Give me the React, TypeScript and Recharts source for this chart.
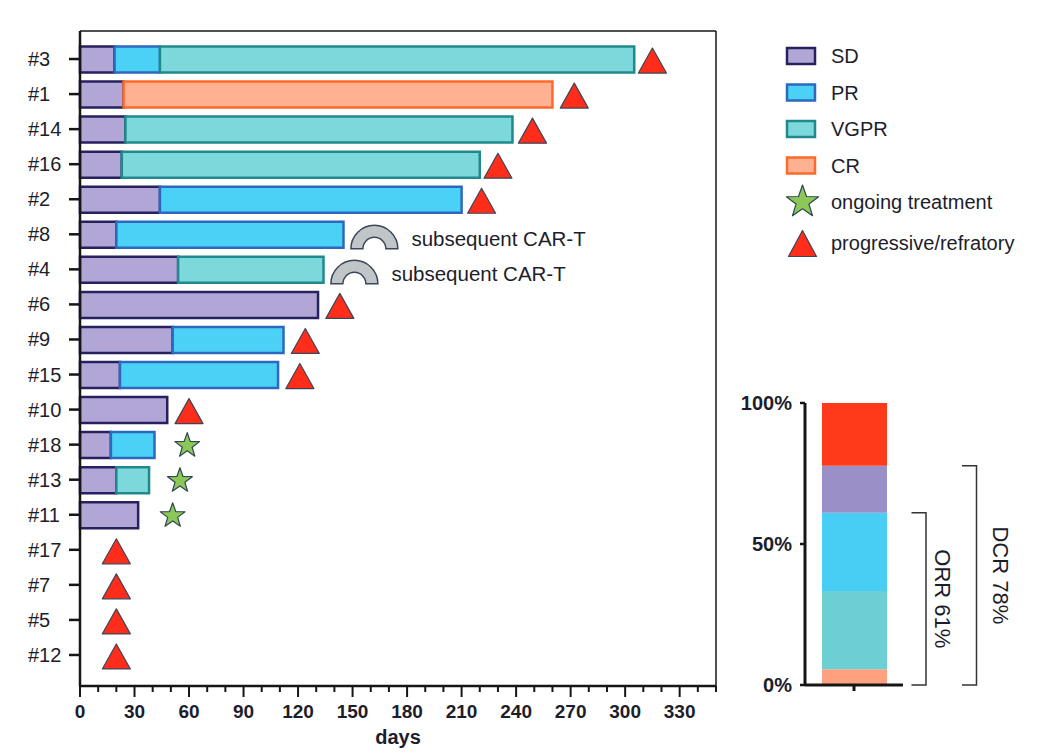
import React from "react";
import { BarChart, Bar, XAxis, YAxis, ReferenceDot, ReferenceLine, Legend } from "recharts";

// ── Swimmer plot data (days) ──────────────────────────────────
const patients = ["#3", "#1", "#14", "#16", "#2", "#8", "#4", "#6", "#9", "#15", "#10", "#18", "#13", "#11", "#17", "#7", "#5", "#12"];
const sdDays = [19, 24, 25, 23, 44, 20, 54, 131, 51, 22, 48, 17, 20, 32, 0, 0, 0, 0];
const prDays = [25, 0, 0, 0, 166, 125, 0, 0, 61, 87, 0, 24, 0, 0, 0, 0, 0, 0];
const vgprDays = [261, 0, 213, 197, 0, 0, 80, 0, 0, 0, 0, 0, 18, 0, 0, 0, 0, 0];
const crDays = [0, 236, 0, 0, 0, 0, 0, 0, 0, 0, 0, 0, 0, 0, 0, 0, 0, 0];
// end-of-treatment event per patient
const eventKind = ["pd", "pd", "pd", "pd", "pd", "cart", "cart", "pd", "pd", "pd", "pd", "ongoing", "ongoing", "ongoing", "pd", "pd", "pd", "pd"];
const eventDay = [315, 272, 249, 230, 221, 162, 151, 143, 124, 121, 60, 59, 55, 51, 20, 20, 20, 20];

const dayTicks = [0, 10, 20, 30, 40, 50, 60, 70, 80, 90, 100, 110, 120, 130, 140, 150, 160, 170, 180, 190, 200, 210, 220, 230, 240, 250, 260, 270, 280, 290, 300, 310, 320, 330, 340, 350];
const dayLabels = [0, 30, 60, 90, 120, 150, 180, 210, 240, 270, 300, 330];

// ── Best-response summary ─────────────────────────────────────
const responseNames = ["CR", "VGPR", "PR", "SD", "PD"];
const responseCounts = [1, 5, 5, 3, 4];
const rateTicks = [0, 0.5, 1];

const legendItems = ["SD", "PR", "VGPR", "CR", "ongoing treatment", "progressive/refratory"];

const FONT = '"Liberation Sans", Arial, Helvetica, sans-serif';
const INK = "#1d1d2b";
const AXIS = "#161616";

const phaseStyle: Record<string, { fill: string; stroke: string }> = {
  SD: { fill: "#b1a6d5", stroke: "#27215f" },
  PR: { fill: "#4bd0f6", stroke: "#2d68bf" },
  VGPR: { fill: "#7dd8dc", stroke: "#20898d" },
  CR: { fill: "#ffb191", stroke: "#ff6a2b" },
};
const summaryColors: Record<string, string> = {
  CR: "#ffa07f", VGPR: "#6ccfd3", PR: "#48cdf4", SD: "#9b8fc7", PD: "#ff3a1a",
};

const rows = patients.map((id, i) => ({
  id, SD: sdDays[i], PR: prDays[i], VGPR: vgprDays[i], CR: crDays[i],
}));

const summary = [
  Object.fromEntries([["name", "all"], ...responseNames.map((n, i) => [n, responseCounts[i]])]),
];
const total = responseCounts.reduce((s, v) => s + v, 0);
const orrRate = (responseCounts[0] + responseCounts[1] + responseCounts[2]) / total;
const dcrRate = orrRate + responseCounts[3] / total;

// ── Marker shapes ──────────────────────────────────────────────
function starPoints(cx: number, cy: number, R: number, r: number) {
  const pts: string[] = [];
  for (let k = 0; k < 10; k++) {
    const a = -Math.PI / 2 + (k * Math.PI) / 5;
    const rad = k % 2 === 0 ? R : r;
    pts.push(`${cx + rad * Math.cos(a)},${cy + rad * Math.sin(a)}`);
  }
  return pts.join(" ");
}

function Triangle({ cx, cy, half = 14, up = 11, down = 14 }: any) {
  return (
    <polygon
      points={`${cx},${cy - up} ${cx + half},${cy + down} ${cx - half},${cy + down}`}
      fill="#ff2d1a" stroke="#3c4658" strokeWidth={1.2} strokeLinejoin="round"
    />
  );
}

function Star({ cx, cy, R = 13, r = 5.2 }: any) {
  return <polygon points={starPoints(cx, cy, R, r)} fill="#8bc857" stroke="#2f4658" strokeWidth={1.2} strokeLinejoin="round" />;
}

function Arch({ cx, cy }: any) {
  const R = 23.5, r = 11.5, by = cy + 14.5;
  const d = `M${cx - R},${by} A${R},${R} 0 0 1 ${cx + R},${by} L${cx + r},${by} A${r},${r} 0 0 0 ${cx - r},${by} Z`;
  return (
    <g>
      <path d={d} fill="#c0c5c7" stroke="#3c4658" strokeWidth={1.5} />
      <text x={cx + 37} y={cy + 11.5} fontSize={20.5} fill={INK} fontFamily={FONT}>subsequent CAR-T</text>
    </g>
  );
}

function EventMarker(props: any) {
  const { cx, cy, kind } = props;
  if (kind === "pd") return <Triangle cx={cx} cy={cy} />;
  if (kind === "ongoing") return <Star cx={cx} cy={cy + 1} />;
  return <Arch cx={cx} cy={cy} />;
}

// ── Axis ticks ─────────────────────────────────────────────────
function PatientTick({ x, y, payload }: any) {
  return (
    <g>
      <line x1={x - 11} x2={x} y1={y} y2={y} stroke={AXIS} strokeWidth={2.5} />
      <text x={x - 52} y={y} dy="0.35em" fontSize={20} fill={INK} fontFamily={FONT}>{payload.value}</text>
    </g>
  );
}

function DayTick({ x, y, payload }: any) {
  const major = dayLabels.includes(payload.value);
  return (
    <g>
      <line x1={x} x2={x} y1={y} y2={y + (major ? 11 : 6)} stroke={AXIS} strokeWidth={2} />
      {major && (
        <text x={x} y={y + 32} textAnchor="middle" fontSize={19} fontWeight={700} fill={INK} fontFamily={FONT}>
          {payload.value}
        </text>
      )}
    </g>
  );
}

// ── Legend ─────────────────────────────────────────────────────
function LegendBox() {
  return (
    <svg width={260} height={240}>
      {legendItems.map((name, i) => {
        const cy = 26 + i * 36.5 + (i === 5 ? 4 : 0);
        const st = phaseStyle[name];
        return (
          <g key={name}>
            {st && <rect x={7} y={cy - 8} width={28} height={16} fill={st.fill} stroke={st.stroke} strokeWidth={2.5} />}
            {name === "ongoing treatment" && <Star cx={22.5} cy={cy} R={17} r={6.8} />}
            {name === "progressive/refratory" && <Triangle cx={22.5} cy={cy} half={14} up={12} down={14} />}
            <text x={51} y={cy} dy="0.35em" fontSize={20} fill={INK} fontFamily={FONT}>{name}</text>
          </g>
        );
      })}
    </svg>
  );
}

// Bracket drawn to the right of the summary bar; the line's y-extent comes from the y scale
const bracket = (text: string, lineDx: number, tickLen: number, textDx: number) => (p: any) => {
  const x = p.x1 + lineDx;
  const yTop = Math.min(p.y1, p.y2);
  const yBot = Math.max(p.y1, p.y2);
  const ty = (yTop + yBot) / 2;
  const tx = x + textDx;
  return (
    <g>
      <path d={`M${x - tickLen},${yTop} H${x} V${yBot} H${x - tickLen}`} fill="none" stroke="#333" strokeWidth={1.5} />
      <text x={tx} y={ty} transform={`rotate(90 ${tx} ${ty})`} textAnchor="middle" dy="0.35em"
        fontSize={22} fill={INK} fontFamily={FONT}>{text}</text>
    </g>
  );
};

export default function App() {
  return (
    <div style={{ position: "absolute", left: 0, top: 0, width: 1044, height: 756, background: "#fff", fontFamily: FONT }}>
      {/* ── Swimmer plot ───────────────────────────────────── */}
      <div style={{ position: "absolute", left: 0, top: 0 }}>
        <BarChart layout="vertical" width={1044} height={756} data={rows}
          margin={{ top: 30, right: 327, bottom: 0, left: 0 }}>
          <XAxis type="number" domain={[0, 350]} ticks={dayTicks} interval={0} height={70}
            tickSize={0} tickMargin={0} tickLine={false} tick={DayTick}
            axisLine={{ stroke: AXIS, strokeWidth: 2.5 }}
            label={{ value: "days", position: "insideBottom", offset: 12, fontSize: 20, fontWeight: 700, fill: INK }} />
          <XAxis xAxisId="frame" orientation="top" type="number" domain={[0, 350]} height={1}
            tick={false} tickLine={false} axisLine={{ stroke: AXIS, strokeWidth: 1.5 }} />
          <YAxis type="category" dataKey="id" width={80} padding={{ top: 10.5, bottom: 13.5 }}
            tickSize={0} tickMargin={0} tickLine={false} tick={PatientTick} interval={0}
            axisLine={{ stroke: AXIS, strokeWidth: 2.5 }} />
          <YAxis yAxisId="frame" orientation="right" type="category" dataKey="id" width={1}
            tick={false} tickLine={false} axisLine={{ stroke: AXIS, strokeWidth: 1.5 }} />
          {["SD", "PR", "VGPR", "CR"].map((k) => (
            <Bar key={k} dataKey={k} stackId="t" barSize={26} fill={phaseStyle[k].fill}
              stroke={phaseStyle[k].stroke} strokeWidth={2.5} isAnimationActive={false} />
          ))}
          {patients.map((id, i) => (
            <ReferenceDot key={id} x={eventDay[i]} y={id} r={10} ifOverflow="visible"
              shape={(p: any) => <EventMarker {...p} kind={eventKind[i]} />} />
          ))}
          <Legend layout="vertical" align="center" verticalAlign="middle"
            wrapperStyle={{ left: 780, top: 30, width: 260, height: 240 }}
            content={() => <LegendBox />} />
        </BarChart>
      </div>

      {/* ── Best-response stacked bar ─────────────────────── */}
      <div style={{ position: "absolute", left: 0, top: 0 }}>
        <BarChart width={1044} height={756} data={summary} stackOffset="expand"
          margin={{ top: 403, right: 141, bottom: 0, left: 0 }}>
          <XAxis dataKey="name" height={71} tickSize={6} tickFormatter={() => ""}
            tickLine={{ stroke: AXIS, strokeWidth: 3 }} axisLine={{ stroke: AXIS, strokeWidth: 3 }} />
          <YAxis width={805} domain={[0, 1]} ticks={rateTicks} interval={0}
            tickFormatter={(v: number) => `${Math.round(v * 100)}%`}
            tickSize={5} tickMargin={8}
            tick={{ fontSize: 20, fontWeight: 700, fill: INK, fontFamily: FONT }}
            tickLine={{ stroke: AXIS, strokeWidth: 2.5 }} axisLine={{ stroke: AXIS, strokeWidth: 3 }} />
          {responseNames.map((n) => (
            <Bar key={n} dataKey={n} stackId="s" barSize={65} fill={summaryColors[n]} isAnimationActive={false} />
          ))}
          <ReferenceLine ifOverflow="visible"
            segment={[{ x: "all", y: 0 }, { x: "all", y: orrRate }]}
            shape={bracket(`ORR ${Math.round(orrRate * 100)}%`, 72, 14.5, 17)} />
          <ReferenceLine ifOverflow="visible"
            segment={[{ x: "all", y: 0 }, { x: "all", y: dcrRate }]}
            shape={bracket(`DCR ${Math.round(dcrRate * 100)}%`, 122.5, 14.5, 24)} />
        </BarChart>
      </div>
    </div>
  );
}
